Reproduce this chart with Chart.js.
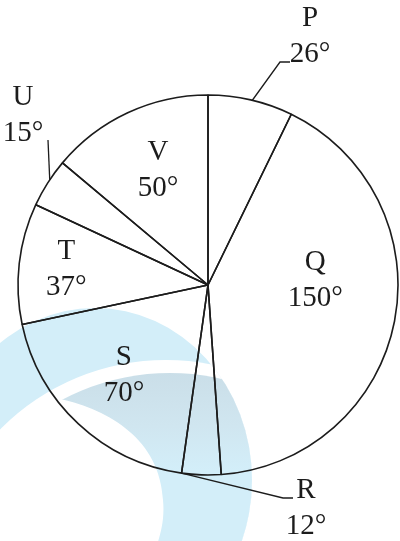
<!DOCTYPE html>
<html>
<head>
<meta charset="utf-8">
<script src="https://cdn.jsdelivr.net/npm/chart.js@4.4.0/dist/chart.umd.min.js"></script>
<style>
  html, body { margin: 0; padding: 0; background: #fff; }
  #wrap { width: 400px; height: 541px; }
</style>
</head>
<body>
<div id="wrap"><canvas id="pie"></canvas></div>
<script>
// sectors of the pie, values in degrees
const sectors = ['P', 'Q', 'R', 'S', 'T', 'U', 'V'];
const degrees = [26, 150, 12, 70, 37, 15, 50];

// where each name sits: angle from the top (clockwise) and fraction of radius
const inside = {
  Q: { ang: 87.6, f: 0.565 },
  S: { ang: 222.9, f: 0.65 },
  T: { ang: 276.4, f: 0.75 },
  V: { ang: 336.5, f: 0.66 }
};
// names written outside the circle, with their leader lines
const outside = {
  P: { x: 310, y: 18, leader: [[280, 62], [290, 62]] },
  U: { x: 23, y: 97, leader: [[48, 140]] },
  R: { x: 306, y: 490, leader: [[283, 498], [293, 498]] }
};
// where the leader leaves the circle (degrees from the top)
const leaderFrom = { P: 13.5, U: 303.6, R: 188 };

const FONT = '29px "Liberation Serif", "Times New Roman", serif';
const INK = '#1c1c1c';
const PALE = '#d3eef9';

function polar(cx, cy, r, deg) {
  const a = deg * Math.PI / 180;
  return [cx + r * Math.sin(a), cy - r * Math.cos(a)];
}

// faint logo behind the pie
const watermark = {
  id: 'watermark',
  beforeDatasetsDraw(chart) {
    const c = chart.ctx;
    c.save();
    c.beginPath();
    c.ellipse(95, 480, 157, 172, 0, 0, Math.PI * 2);
    c.fillStyle = PALE;
    c.fill();
    c.clip();
    // white band
    c.beginPath();
    c.arc(166, 593, 233, 0, Math.PI * 2);
    c.fillStyle = '#ffffff';
    c.fill();
    // shaded part under the band
    c.save();
    c.beginPath();
    c.arc(170, 605, 232, 0, Math.PI * 2);
    c.clip();
    const g = c.createLinearGradient(0, 372, 0, 470);
    g.addColorStop(0, '#cadee8');
    g.addColorStop(0.55, '#d0e6f0');
    g.addColorStop(1, PALE);
    c.fillStyle = g;
    c.fillRect(0, 300, 400, 241);
    c.restore();
    // white lower-left part
    c.beginPath();
    c.moveTo(0, 436);
    c.lineTo(60, 399);
    c.bezierCurveTo(110, 410, 160, 440, 163, 500);
    c.bezierCurveTo(165, 520, 160, 535, 157, 545);
    c.lineTo(0, 545);
    c.closePath();
    c.fillStyle = '#ffffff';
    c.fill();
    c.restore();
  }
};

const labelsPlugin = {
  id: 'sectorLabels',
  afterDatasetsDraw(chart) {
    const c = chart.ctx;
    const arc = chart.getDatasetMeta(0).data[0];
    const cx = arc.x, cy = arc.y, r = arc.outerRadius;
    c.save();
    c.font = FONT;
    c.fillStyle = INK;
    c.strokeStyle = INK;
    c.lineWidth = 1.3;
    c.textAlign = 'center';
    c.textBaseline = 'middle';
    sectors.forEach((name, i) => {
      const txt = degrees[i] + '°';
      if (inside[name]) {
        const p = polar(cx, cy, r * inside[name].f, inside[name].ang);
        c.fillText(name, p[0], p[1] - 18);
        c.fillText(txt, p[0], p[1] + 18);
      } else if (outside[name]) {
        const o = outside[name];
        c.fillText(name, o.x, o.y);
        c.fillText(txt, o.x, o.y + 36);
        const s = polar(cx, cy, r, leaderFrom[name]);
        c.beginPath();
        c.moveTo(s[0], s[1]);
        o.leader.forEach(pt => c.lineTo(pt[0], pt[1]));
        c.stroke();
      }
    });
    c.restore();
  }
};

new Chart(document.getElementById('pie'), {
  type: 'pie',
  data: {
    labels: sectors,
    datasets: [{
      data: degrees,
      backgroundColor: 'rgba(0,0,0,0)',
      borderColor: '#1c1c1c',
      borderWidth: 1.6,
      borderAlign: 'center',
      radius: 190
    }]
  },
  options: {
    responsive: true,
    maintainAspectRatio: false,
    animation: false,
    layout: { padding: { left: 16, right: 0, top: 90, bottom: 61 } },
    plugins: {
      legend: { display: false },
      tooltip: { enabled: false }
    }
  },
  plugins: [watermark, labelsPlugin]
});
</script>
</body>
</html>
